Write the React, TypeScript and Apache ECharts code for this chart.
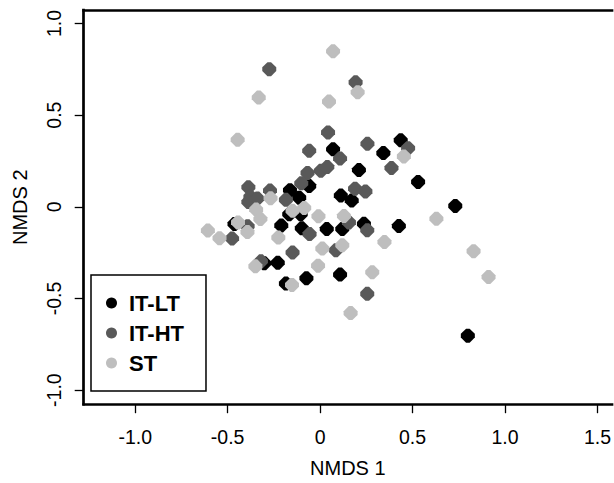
import React, { useEffect, useRef } from "react";
import * as echarts from "echarts";

// ---- data ----
const seriesNames = ["IT-LT", "IT-HT", "ST"];
const seriesColors = ["#000000", "#595959", "#bebebe"];

const itLtPoints: number[][] = [
  [0.070, 0.314], [0.210, 0.201], [0.342, 0.293], [0.436, 0.363], [0.530, 0.136],
  [0.731, 0.005], [0.426, -0.105], [0.799, -0.703], [-0.059, 0.113], [-0.163, 0.091],
  [-0.113, 0.050], [0.112, 0.062], [0.171, 0.034], [-0.167, -0.041], [-0.105, -0.040],
  [-0.210, -0.102], [-0.099, -0.117], [0.036, -0.121], [0.120, -0.121], [0.237, -0.093],
  [-0.463, -0.094], [-0.302, -0.308], [-0.229, -0.305], [-0.074, -0.390], [-0.185, -0.419],
  [0.108, -0.370],
];

const itHtPoints: number[][] = [
  [-0.275, 0.751], [0.192, 0.679], [0.043, 0.406], [-0.059, 0.306], [0.108, 0.264],
  [0.256, 0.344], [0.476, 0.320], [0.386, 0.212], [-0.068, 0.185], [0.004, 0.197],
  [0.039, 0.217], [-0.102, 0.128], [0.189, 0.099], [0.245, 0.084], [-0.271, 0.089],
  [-0.185, 0.038], [-0.388, 0.107], [-0.377, 0.055], [-0.388, 0.026], [-0.339, 0.045],
  [0.156, -0.085], [0.255, -0.128], [0.085, -0.237], [-0.057, -0.149], [-0.149, -0.249],
  [-0.392, -0.106], [-0.476, -0.173], [-0.320, -0.297], [0.255, -0.475],
];

const stPoints: number[][] = [
  [0.070, 0.849], [0.203, 0.625], [-0.332, 0.596], [0.048, 0.574], [-0.446, 0.366],
  [0.453, 0.275], [-0.268, 0.047], [-0.346, -0.015], [-0.323, -0.067], [-0.149, -0.022],
  [-0.086, -0.006], [-0.009, -0.052], [0.129, -0.050], [-0.444, -0.085], [-0.393, -0.138],
  [-0.607, -0.129], [-0.544, -0.171], [-0.226, -0.168], [0.012, -0.228], [0.120, -0.210],
  [0.348, -0.192], [0.629, -0.065], [0.830, -0.242], [0.911, -0.383], [-0.350, -0.325],
  [-0.011, -0.321], [0.282, -0.357], [-0.152, -0.426], [0.165, -0.580],
];

const xTicks = [-1, -0.5, 0, 0.5, 1, 1.5];
const yTicks = [-1, -0.5, 0, 0.5, 1];
const xTitle = "NMDS 1";
const yTitle = "NMDS 2";

const xRange = [-1.2786, 1.5787];
const yRange = [-1.077, 1.0727];

const fmt = (v: number) => (v === 0 ? "0" : v.toFixed(1));
const FONT = "'Liberation Sans', Arial, Helvetica, sans-serif";
const SYMBOL = "path://M38,3 L62,3 L97,38 L97,62 L62,97 L38,97 L3,62 L3,38 Z";

export default function App() {
  const ref = useRef<HTMLDivElement>(null);

  useEffect(() => {
    if (!ref.current) return;
    const chart = echarts.init(ref.current, undefined, { renderer: "svg" });
    const allPoints = [itLtPoints, itHtPoints, stPoints];

    const axisLine = {
      show: true,
      onZero: false,
      lineStyle: { color: "#000", width: 2.7, cap: "square" as const },
    };

    chart.setOption({
      animation: false,
      backgroundColor: "#ffffff",
      textStyle: { fontFamily: FONT },
      grid: { left: 83.7, top: 10.2, right: 0, bottom: 73.8, containLabel: false },
      xAxis: [
        {
          type: "value",
          min: xRange[0],
          max: xRange[1],
          position: "bottom",
          name: xTitle,
          nameLocation: "middle",
          nameGap: 53.8,
          nameTextStyle: { fontSize: 20, color: "#000", fontFamily: FONT },
          axisLine,
          splitLine: { show: false },
          axisTick: {
            show: true,
            inside: false,
            length: 9,
            customValues: xTicks,
            lineStyle: { color: "#000", width: 1.3 },
          },
          axisLabel: {
            show: true,
            margin: 22.5,
            fontSize: 19.5,
            color: "#000",
            fontFamily: FONT,
            customValues: xTicks,
            formatter: (v: number) => fmt(v),
          },
        },
        {
          type: "value",
          min: xRange[0],
          max: xRange[1],
          position: "top",
          axisLine,
          splitLine: { show: false },
          axisTick: { show: false },
          axisLabel: { show: false },
        },
      ],
      yAxis: {
        type: "value",
        min: yRange[0],
        max: yRange[1],
        position: "left",
        name: yTitle,
        nameLocation: "middle",
        nameGap: 53.4,
        nameRotate: 90,
        nameTextStyle: { fontSize: 20, color: "#000", fontFamily: FONT },
        axisLine,
        splitLine: { show: false },
        axisTick: {
          show: true,
          inside: false,
          length: 9,
          customValues: yTicks,
          lineStyle: { color: "#000", width: 1.3 },
        },
        axisLabel: {
          show: true,
          rotate: 90,
          margin: 20,
          fontSize: 19.5,
          color: "#000",
          fontFamily: FONT,
          customValues: yTicks,
          formatter: (v: number) => fmt(v),
        },
      },
      legend: {
        show: true,
        orient: "vertical",
        left: 91,
        top: 275,
        padding: [17, 22, 17, 15],
        itemGap: 8,
        itemWidth: 25,
        itemHeight: 11,
        icon: "circle",
        selectedMode: false,
        backgroundColor: "#ffffff",
        borderColor: "#000",
        borderWidth: 1.5,
        borderRadius: 0,
        textStyle: { fontSize: 22, fontWeight: "bold", color: "#000", fontFamily: FONT },
        data: seriesNames,
      },
      series: seriesNames.map((name, i) => ({
        name,
        type: "scatter",
        xAxisIndex: 0,
        yAxisIndex: 0,
        symbol: SYMBOL,
        symbolSize: 14,
        itemStyle: { color: seriesColors[i], opacity: 1 },
        emphasis: { disabled: true },
        data: allPoints[i],
        z: 2 + i,
      })),
    });

    return () => chart.dispose();
  }, []);

  return (
    <div
      ref={ref}
      style={{ position: "fixed", left: 0, top: 0, width: 614, height: 483, background: "#fff" }}
    />
  );
}
